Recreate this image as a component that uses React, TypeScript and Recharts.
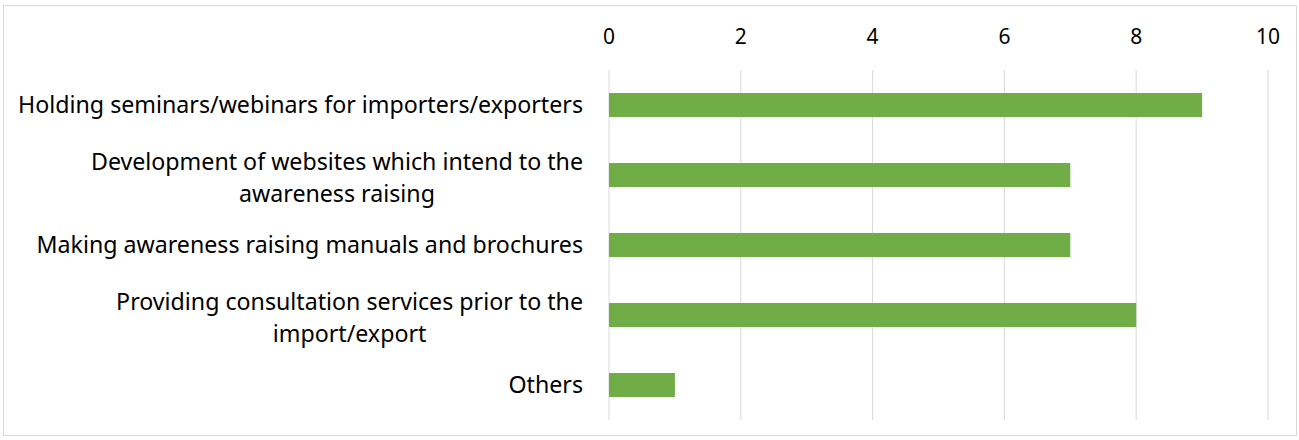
import { Bar, BarChart, CartesianGrid, XAxis, YAxis } from "recharts";

const categories = [
  "Holding seminars/webinars for importers/exporters",
  "Development of websites which intend to the\nawareness raising",
  "Making awareness raising manuals and brochures",
  "Providing consultation services prior to the\nimport/export",
  "Others",
];
const counts = [9, 7, 7, 8, 1];
const xTicks = [0, 2, 4, 6, 8, 10];

const data = categories.map((name, i) => ({ name, count: counts[i] }));

const FONT = "'Noto Sans', 'Open Sans', sans-serif";
const FONT_SIZE = 23.2;

let ctx: CanvasRenderingContext2D | null = null;
const measure = (s: string) => {
  if (!ctx) ctx = document.createElement("canvas").getContext("2d");
  if (!ctx) return s.length * 11;
  ctx.font = `${FONT_SIZE}px 'Noto Sans'`;
  return ctx.measureText(s).width;
};

const CategoryTick = ({ x, y, payload }: any) => {
  const lines: string[] = String(payload.value).split("\n");
  const right = x - 18;
  const widest = Math.max(...lines.map(measure));
  const cx = right - widest / 2;
  const lh = 32;
  const top = y - ((lines.length - 1) * lh) / 2 + (lines.length > 1 ? 2 : -1);
  return (
    <g>
      {lines.map((l, i) => (
        <text
          key={i}
          x={cx}
          y={top + i * lh}
          textAnchor="middle"
          dominantBaseline="central"
          fill="#000"
          fontSize={FONT_SIZE}
          fontFamily={FONT}
        >
          {l}
        </text>
      ))}
    </g>
  );
};

export default function App() {
  return (
    <div style={{ position: "absolute", left: 0, top: 0, width: 1299, height: 440, background: "#fff" }}>
      <div
        style={{
          position: "absolute",
          left: 3,
          top: 5,
          width: 1292,
          height: 429,
          border: "1px solid #d9d9d9",
        }}
      />
      <BarChart
        width={1299}
        height={440}
        data={data}
        layout="vertical"
        margin={{ top: 0, right: 31, bottom: 20, left: 0 }}
        style={{ position: "absolute", left: 0, top: 0 }}
      >
        <CartesianGrid horizontal={false} stroke="#d9d9d9" />
        <XAxis
          type="number"
          orientation="top"
          domain={[0, 10]}
          ticks={xTicks}
          height={70}
          axisLine={false}
          tickLine={false}
          tickMargin={20}
          tick={{ fill: "#000", fontSize: 21, fontFamily: FONT }}
        />
        <YAxis
          type="category"
          dataKey="name"
          width={609}
          axisLine={false}
          tickLine={false}
          tick={<CategoryTick />}
          interval={0}
        />
        <Bar dataKey="count" fill="#70ad47" barSize={24} isAnimationActive={false} />
      </BarChart>
    </div>
  );
}
